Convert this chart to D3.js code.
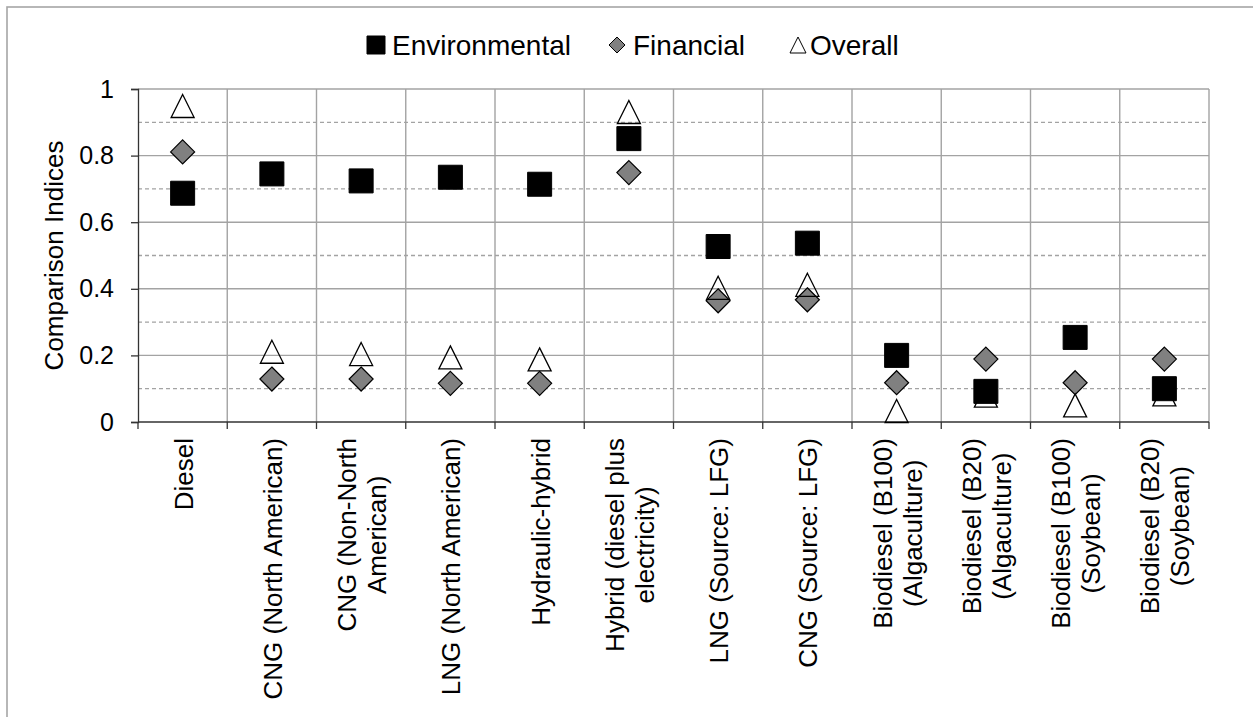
<!DOCTYPE html>
<meta charset="utf-8">
<html>
  <head>
    <script src="https://d3js.org/d3.v7.min.js"></script>
    <style>
      body { margin: 0; background: white; }
      svg { display: block; font-family: "Liberation Sans", Arial, sans-serif; }
    </style>
  </head>
  <body>
  <script>

// data
const categories = [
  'Diesel',
  'CNG (North American)',
  'CNG (Non-North\nAmerican)',
  'LNG (North American)',
  'Hydraulic-hybrid',
  'Hybrid (diesel plus\nelectricity)',
  'LNG (Source: LFG)',
  'CNG (Source: LFG)',
  'Biodiesel (B100)\n(Algaculture)',
  'Biodiesel (B20)\n(Algaculture)',
  'Biodiesel (B100)\n(Soybean)',
  'Biodiesel (B20)\n(Soybean)'
];
const environmental = [0.687, 0.745, 0.724, 0.735, 0.714, 0.851, 0.527, 0.537, 0.200, 0.092, 0.254, 0.100];
const financial     = [0.811, 0.129, 0.129, 0.116, 0.116, 0.749, 0.364, 0.367, 0.118, 0.189, 0.118, 0.189];
const overall       = [0.949, 0.211, 0.204, 0.194, 0.188, 0.931, 0.403, 0.412, 0.033, 0.079, 0.050, 0.083];
const series_names  = ['Environmental', 'Financial', 'Overall'];
const y_ticks = [0, 0.2, 0.4, 0.6, 0.8, 1];
const y_minor = [0.1, 0.3, 0.5, 0.7, 0.9];

const width = 1253, height = 717,
      plot = {left: 138, right: 1209, top: 89, bottom: 422},
      grid_colour = '#a3a3a3',
      axis_colour = '#333';

const svg = d3.select('body').append('svg')
  .attr('width', width)
  .attr('height', height);

// outer chart border (top and left edges show)
svg.append('rect')
  .attr('x', 7).attr('y', 7)
  .attr('width', width + 20).attr('height', height + 20)
  .attr('fill', 'none')
  .attr('stroke', '#a6a6a6')
  .attr('stroke-width', 1.6);

const x = d3.scaleBand().domain(d3.range(categories.length)).range([plot.left, plot.right]).padding(0),
      y = d3.scaleLinear().domain([0, 1]).range([plot.bottom, plot.top]);

const g = svg.append('g');

// gridlines
g.append('g').selectAll('line')
  .data(y_minor)
  .join('line')
    .attr('x1', plot.left).attr('x2', plot.right)
    .attr('y1', y).attr('y2', y)
    .attr('stroke', grid_colour)
    .attr('stroke-width', 1.3)
    .attr('stroke-dasharray', '4,3');

g.append('g').selectAll('line')
  .data(y_ticks.slice(1))
  .join('line')
    .attr('x1', plot.left).attr('x2', plot.right)
    .attr('y1', y).attr('y2', y)
    .attr('stroke', grid_colour)
    .attr('stroke-width', 1.4);

g.append('g').selectAll('line')
  .data(d3.range(1, categories.length + 1))
  .join('line')
    .attr('x1', i => plot.left + i * x.step()).attr('x2', i => plot.left + i * x.step())
    .attr('y1', plot.top).attr('y2', plot.bottom)
    .attr('stroke', grid_colour)
    .attr('stroke-width', 1.4);

// y axis
const y_axis = g.append('g')
  .attr('transform', `translate(${plot.left},0)`)
  .call(d3.axisLeft(y).tickValues(y_ticks).tickSize(7).tickPadding(17).tickFormat(d => d3.format('')(d)));
y_axis.select('.domain').attr('stroke', axis_colour).attr('stroke-width', 1.3);
y_axis.selectAll('.tick line').attr('stroke', axis_colour).attr('stroke-width', 1.3);
y_axis.selectAll('.tick text')
  .attr('font-size', 25)
  .attr('font-family', '"Liberation Sans", Arial, sans-serif')
  .attr('fill', '#000');

// x axis (ticks at category boundaries)
g.append('line')
  .attr('x1', plot.left).attr('x2', plot.right)
  .attr('y1', plot.bottom).attr('y2', plot.bottom)
  .attr('stroke', axis_colour).attr('stroke-width', 1.3);
g.append('g').selectAll('line')
  .data(d3.range(0, categories.length + 1))
  .join('line')
    .attr('x1', i => plot.left + i * x.step()).attr('x2', i => plot.left + i * x.step())
    .attr('y1', plot.bottom).attr('y2', plot.bottom + 7)
    .attr('stroke', axis_colour).attr('stroke-width', 1.3);

// category labels, rotated, lines centred on each other, block ending near the axis
const label_font = 26, line_gap = 30, label_top = 438;
const labels = g.append('g').selectAll('g')
  .data(categories)
  .join('g')
    .attr('transform', (d, i) => `translate(${x(i) + x.bandwidth() / 2},0) rotate(-90)`);

labels.each(function(d) {
  const lines = d.split('\n'),
        grp = d3.select(this);
  const texts = grp.selectAll('text')
    .data(lines)
    .join('text')
      .attr('text-anchor', 'middle')
      .attr('font-size', label_font)
      .attr('dy', '0.35em')
      .attr('y', (l, j) => (j - (lines.length - 1) / 2) * line_gap + 1)
      .text(l => l);
  const max_len = d3.max(texts.nodes(), n => n.getComputedTextLength());
  texts.attr('x', -(label_top + max_len / 2));
});

// y title
g.append('text')
  .attr('transform', `translate(63,${(plot.top + plot.bottom) / 2}) rotate(-90)`)
  .attr('text-anchor', 'middle')
  .attr('font-size', 26)
  .text('Comparison Indices');

// markers
const square = s => `M${-s/2},${-s/2}h${s}v${s}h${-s}Z`,
      diamond = s => `M0,${-s/2}L${s/2},0L0,${s/2}L${-s/2},0Z`,
      triangle = s => `M0,${-s/2}L${s/2},${s/2}L${-s/2},${s/2}Z`;

const styles = [
  {shape: square,   fill: '#000',    stroke: '#000', sw: 1,   size: 24, legend: 18},
  {shape: diamond,  fill: '#808080', stroke: '#000', sw: 1.2, size: 24, legend: 16},
  {shape: triangle, fill: 'none',    stroke: '#000', sw: 1.3, size: 23, legend: 16}
];

[environmental, financial, overall].forEach((vals, k) => {
  const st = styles[k];
  g.append('g').selectAll('path')
    .data(vals)
    .join('path')
      .attr('transform', (v, i) => `translate(${x(i) + x.bandwidth() / 2},${y(v)})`)
      .attr('d', st.shape(st.size))
      .attr('fill', st.fill)
      .attr('stroke', st.stroke)
      .attr('stroke-width', st.sw);
});

// legend
const legend_x = [376, 617, 798],
      legend_y = 45;
const legend = svg.append('g').selectAll('g')
  .data(series_names)
  .join('g')
    .attr('transform', (d, i) => `translate(${legend_x[i]},${legend_y})`);
legend.append('path')
  .attr('d', (d, i) => styles[i].shape(styles[i].legend))
  .attr('fill', (d, i) => styles[i].fill)
  .attr('stroke', (d, i) => styles[i].stroke)
  .attr('stroke-width', 1);
legend.append('text')
  .attr('x', (d, i) => [16, 16, 12][i])
  .attr('dy', '0.35em')
  .attr('font-size', 28)
  .text(d => d);

  </script>
  </body>
</html>
